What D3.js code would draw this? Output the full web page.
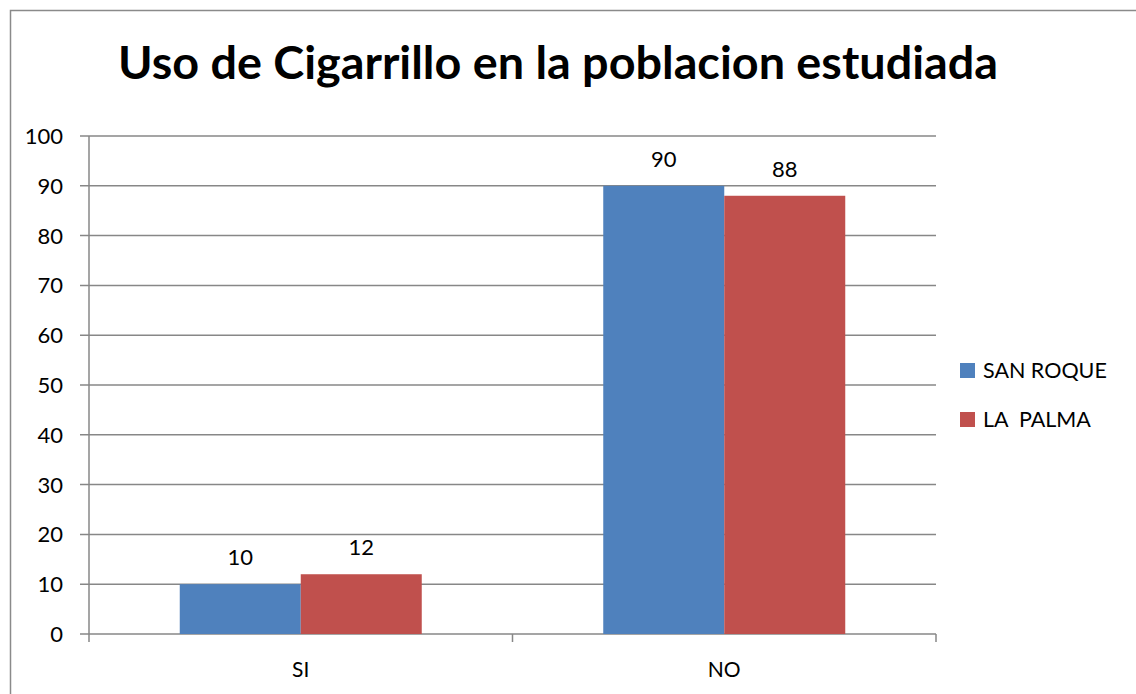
<!DOCTYPE html>
<html>
<head>
<meta charset="utf-8">
<script src="https://cdn.jsdelivr.net/npm/d3@7"></script>
<style>
  html, body { margin: 0; padding: 0; background: #fff; overflow: hidden; }
  svg { display: block; }
  text { font-family: Lato, "Open Sans", sans-serif; fill: #000; }
</style>
</head>
<body>
<svg id="chart" width="1136" height="694"></svg>
<script>
// Chart data
const categories = ["SI", "NO"];
const seriesNames = ["SAN ROQUE", "LA  PALMA"];
const sanRoque = [10, 90];
const laPalma = [12, 88];
const yTicks = [0, 10, 20, 30, 40, 50, 60, 70, 80, 90, 100];
const colors = ["#4F81BD", "#C0504D"];
const titleText = "Uso de Cigarrillo en la poblacion estudiada";

const series = [sanRoque, laPalma];

const svg = d3.select("#chart");
const W = 1136, H = 694;

// Chart frame: top and left edges (the rest lies outside the view)
svg.append("path")
  .attr("d", `M10.5,${H}V10.5H${W}`)
  .attr("fill", "none")
  .attr("stroke", "#8a8a8a")
  .attr("stroke-width", 1.5);

const plot = { left: 89, right: 936, top: 136, bottom: 634 };

const x0 = d3.scaleBand()
  .domain(categories)
  .range([plot.left, plot.right])
  .paddingInner(0).paddingOuter(0);

// gap of 150% of a bar width between groups
const barW = x0.bandwidth() / 3.5;
const x1 = d3.scaleBand()
  .domain(d3.range(series.length))
  .range([0, barW * series.length])
  .padding(0);

const y = d3.scaleLinear().domain([0, 100]).range([plot.bottom, plot.top]);

// Gridlines
svg.append("g")
  .selectAll("line")
  .data(yTicks)
  .join("line")
  .attr("x1", plot.left - 9).attr("x2", plot.right)
  .attr("y1", d => y(d)).attr("y2", d => y(d))
  .attr("stroke", "#878787").attr("stroke-width", 1.5);

// Y axis line
svg.append("line")
  .attr("x1", plot.left).attr("x2", plot.left)
  .attr("y1", plot.top).attr("y2", plot.bottom + 8)
  .attr("stroke", "#878787").attr("stroke-width", 1.5);

// X category tick marks at band boundaries
const bounds = categories.map(c => x0(c)).concat([plot.right]);
svg.append("g")
  .selectAll("line")
  .data(bounds.slice(1))
  .join("line")
  .attr("x1", d => d).attr("x2", d => d)
  .attr("y1", plot.bottom).attr("y2", plot.bottom + 8)
  .attr("stroke", "#878787").attr("stroke-width", 1.5);

// Y tick labels
svg.append("g")
  .selectAll("text")
  .data(yTicks)
  .join("text")
  .attr("x", 63).attr("y", d => y(d) + 8)
  .attr("text-anchor", "end")
  .style("font-size", "22px")
  .text(d => d);

// Bars
const groups = svg.append("g")
  .selectAll("g")
  .data(categories)
  .join("g")
  .attr("transform", c => `translate(${x0(c) + (x0.bandwidth() - barW * series.length) / 2},0)`);

groups.selectAll("rect")
  .data((c, ci) => series.map((s, si) => ({ si, v: s[ci] })))
  .join("rect")
  .attr("x", d => x1(d.si))
  .attr("width", x1.bandwidth())
  .attr("y", d => y(d.v))
  .attr("height", d => y(0) - y(d.v))
  .attr("fill", d => colors[d.si]);

// Value labels
groups.selectAll("text")
  .data((c, ci) => series.map((s, si) => ({ si, v: s[ci] })))
  .join("text")
  .attr("x", d => x1(d.si) + x1.bandwidth() / 2)
  .attr("y", d => y(d.v) - 19)
  .attr("text-anchor", "middle")
  .style("font-size", "22px")
  .text(d => d.v);

// Category labels
svg.append("g")
  .selectAll("text")
  .data(categories)
  .join("text")
  .attr("x", c => x0(c) + x0.bandwidth() / 2)
  .attr("y", 677)
  .attr("text-anchor", "middle")
  .style("font-size", "21px")
  .text(c => c);

// Title
const title = svg.append("text")
  .attr("x", 558).attr("y", 79)
  .attr("text-anchor", "middle")
  .style("font-size", "38px")
  .style("font-weight", "bold")
  .text(titleText);
const tw = title.node().getComputedTextLength();
title.style("font-size", (38 * 880 / tw).toFixed(2) + "px");

// Legend
const legend = svg.append("g")
  .selectAll("g")
  .data(seriesNames)
  .join("g")
  .attr("transform", (d, i) => `translate(960,${363 + i * 49})`);
legend.append("rect")
  .attr("width", 15).attr("height", 15)
  .attr("fill", (d, i) => colors[i]);
legend.append("text")
  .attr("x", 23).attr("y", 15)
  .style("font-size", "21.5px")
  .attr("xml:space", "preserve")
  .text(d => d);
</script>
</body>
</html>
